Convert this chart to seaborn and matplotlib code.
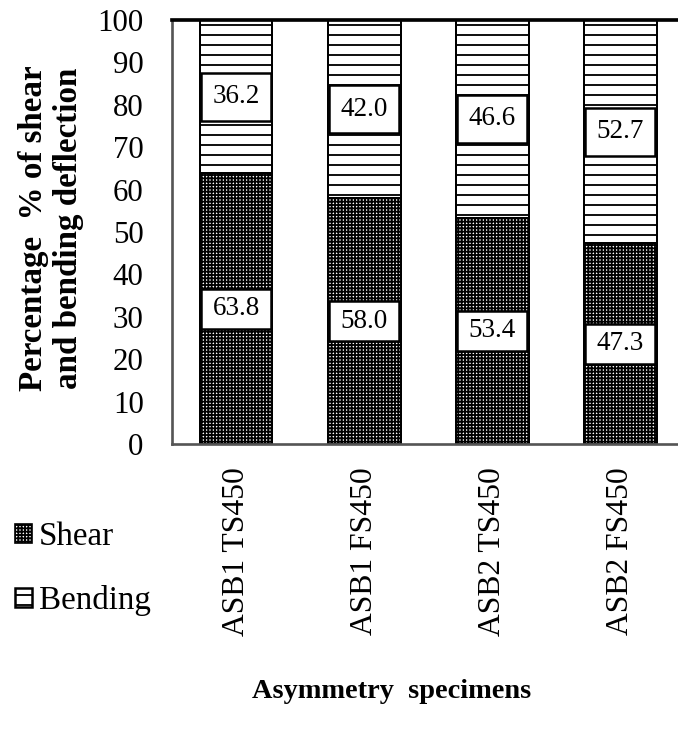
import matplotlib
matplotlib.use("Agg")
import matplotlib.pyplot as plt
from matplotlib.patches import Patch, Rectangle
import seaborn as sns
import pandas as pd

# Share of mid-span deflection caused by shear and by bending (%)
specimens = ["ASB1 TS450", "ASB1 FS450", "ASB2 TS450", "ASB2 FS450"]
shear = [63.8, 58.0, 53.4, 47.3]
bending = [36.2, 42.0, 46.6, 52.7]
y_ticks = list(range(0, 101, 10))
series_names = ["Shear", "Bending"]

sns.set_theme(style="white")
plt.rcParams["font.family"] = ["Liberation Serif", "DejaVu Serif"]
plt.rcParams["hatch.linewidth"] = 1.1

df = pd.DataFrame({"specimen": specimens, "shear": shear, "bending": bending})
df["total"] = df["shear"] + df["bending"]

DPI = 120
fig = plt.figure(figsize=(678 / DPI, 733 / DPI), dpi=DPI)
ax = fig.add_axes([0.2537, 0.3943, 0.7552, 0.5784])

bar_w = 0.57
shear_hatch = "++++++"
bend_hatch = "--"

# stacked bars: full column (bending on top) drawn first, shear over it
sns.barplot(data=df, x="specimen", y="total", color="white", width=bar_w,
            edgecolor="black", linewidth=1.2, hatch=bend_hatch,
            errorbar=None, saturation=1, ax=ax)
sns.barplot(data=df, x="specimen", y="shear", color="white", width=bar_w,
            edgecolor="black", linewidth=1.2, hatch=shear_hatch,
            errorbar=None, saturation=1, ax=ax)

# boxed value labels centred in each segment
box_w = 0.55
for i, (s, b) in enumerate(zip(shear, bending)):
    for center, value, h in ((s / 2, s, 9.4), (s + b / 2, b, 11.3)):
        ax.add_patch(Rectangle((i - box_w / 2, center - h / 2), box_w, h,
                               facecolor="white", edgecolor="black",
                               linewidth=1.5, zorder=5))
        ax.text(i, center, f"{value:.1f}", ha="center", va="center",
                fontsize=16.3, color="black", zorder=6)

ax.set_xlim(-0.5, 3.5)
ax.set_ylim(0, 100)
ax.set_yticks(y_ticks)
ax.tick_params(axis="y", length=0, pad=17, labelsize=18.5, colors="black")
ax.tick_params(axis="x", length=0, pad=14, labelsize=19, colors="black",
               labelrotation=90)

for side in ("left", "bottom"):
    ax.spines[side].set_color("#555555")
    ax.spines[side].set_linewidth(1.6)
ax.spines["top"].set_color("black")
ax.spines["top"].set_linewidth(2.2)
ax.spines["right"].set_color("black")
ax.spines["right"].set_linewidth(2.2)

ax.set_ylabel("Percentage  % of shear\nand bending deflection",
              fontsize=19.8, fontweight="bold", color="black", linespacing=1.15)
ax.yaxis.set_label_coords(-0.236, 0.509)
ax.yaxis.label.set_va("center")

ax.set_xlabel("Asymmetry  specimens", fontsize=17, fontweight="bold",
              color="black")
ax.xaxis.set_label_coords(0.428, -0.584)
ax.xaxis.label.set_va("center")

handles = [
    Patch(facecolor="white", edgecolor="black", hatch=shear_hatch, linewidth=1.0),
    Patch(facecolor="white", edgecolor="black", hatch=bend_hatch, linewidth=1.5),
]
leg = ax.legend(handles, series_names, loc="center left",
                bbox_to_anchor=(0.022, 0.2235), bbox_transform=fig.transFigure,
                frameon=False, fontsize=19.8, handlelength=0.52,
                handleheight=0.52, handletextpad=0.2, labelspacing=1.0,
                borderpad=0, borderaxespad=0)
for t in leg.get_texts():
    t.set_color("black")

fig.savefig("out.png", dpi=DPI)
